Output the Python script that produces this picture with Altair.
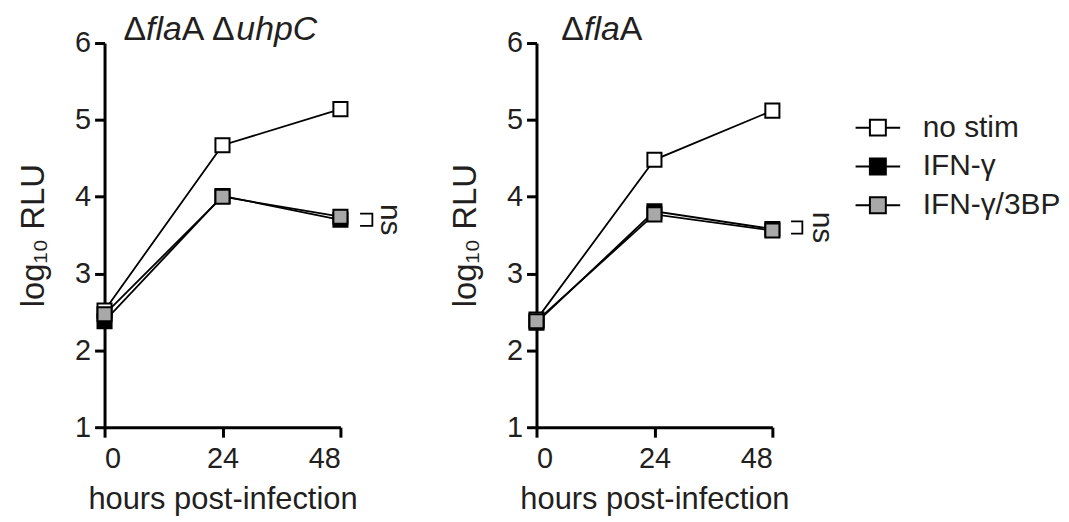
import altair as alt
import pandas as pd

# ---------------- data ----------------
hours = [0, 24, 48]
series_names = ["no stim", "IFN-γ", "IFN-γ/3BP"]

# panel 1: ΔflaA ΔuhpC
left_no_stim = [2.52, 4.67, 5.14]
left_ifng = [2.38, 4.01, 3.70]
left_ifng_3bp = [2.47, 4.00, 3.74]

# panel 2: ΔflaA
right_no_stim = [2.40, 4.48, 5.12]
right_ifng = [2.36, 3.81, 3.58]
right_ifng_3bp = [2.38, 3.77, 3.56]

# "ns" annotation (bracket ends and label position, data units)
left_bracket_x = [52.0, 54.5]
left_bracket_y = [3.78, 3.62]
left_ns = (58.0, 3.70)
right_bracket_x = [51.8, 54.1]
right_bracket_y = [3.68, 3.52]
right_ns = (58.0, 3.60)

y_ticks = [1, 2, 3, 4, 5, 6]
x_ticks = [0, 24, 48]

FONT = "Liberation Sans"
TXT = "#231f20"
fills = ["#ffffff", "#000000", "#a8a8a8"]

legend_path = "M-1.4,0H-0.5M0.5,0H1.4M-0.5,-0.5H0.5V0.5H-0.5Z"


def series_df(a, b, c):
    rows = []
    for name, vals in zip(series_names, [a, b, c]):
        for h, v in zip(hours, vals):
            rows.append({"hour": h, "val": v, "series": name})
    return pd.DataFrame(rows)


X = alt.X("hour:Q", scale=alt.Scale(domain=[0, 48], nice=False, zero=False),
          axis=alt.Axis(values=x_ticks, title="hours post-infection", format="d"))
Y = alt.Y("val:Q", scale=alt.Scale(domain=[1, 6], nice=False, zero=False),
          axis=alt.Axis(values=y_ticks, title="log₁₀ RLU", format="d"))

LEGEND = alt.Legend(title=None, orient="none", legendX=760, legendY=68,
                    symbolType=legend_path, symbolSize=1024,
                    symbolStrokeColor="black", symbolStrokeWidth=2,
                    symbolOpacity=1, labelFont=FONT, labelFontSize=30,
                    labelColor=TXT, labelOffset=28, rowPadding=7)

# widths (em) for Liberation Sans, used to abut the mixed-style title pieces
EM = {"Δ": 0.668, "f": 0.278, "l": 0.222, "a": 0.556, "A": 0.667, " ": 0.278,
      "u": 0.556, "h": 0.556, "p": 0.556, "C": 0.722}
TITLE_SIZE = 34


def title_layers(pieces, x0, y0):
    layers = []
    x = x0
    for text, italic in pieces:
        layers.append(
            alt.Chart(pd.DataFrame({"t": [text]})).mark_text(
                font=FONT, fontSize=TITLE_SIZE, fontStyle="italic" if italic else "normal",
                align="left", baseline="alphabetic", color=TXT
            ).encode(x=alt.value(x), y=alt.value(y0), text="t:N")
        )
        x += sum(EM[ch] for ch in text) * TITLE_SIZE
    return layers


def panel(a, b, c, bx, by, ns, pieces, tx):
    df = series_df(a, b, c)
    base = alt.Chart(df)
    lines = base.mark_line(color="black", strokeWidth=1.8).encode(x=X, y=Y, detail="series:N")
    points = base.mark_point(shape="square", filled=True, size=200, stroke="black",
                             strokeWidth=2, opacity=1).encode(
        x=X, y=Y,
        fill=alt.Fill("series:N", scale=alt.Scale(domain=series_names, range=fills),
                      sort=series_names, legend=LEGEND),
    )
    bdf = pd.DataFrame({"hour": [bx[0], bx[1], bx[1], bx[0]],
                        "val": [by[0], by[0], by[1], by[1]],
                        "o": [0, 1, 2, 3]})
    bracket = alt.Chart(bdf).mark_line(color="black", strokeWidth=1.8).encode(
        x=X, y=Y, order="o:Q")
    ndf = pd.DataFrame({"hour": [ns[0]], "val": [ns[1]], "t": ["ns"]})
    ns_text = alt.Chart(ndf).mark_text(angle=90, font=FONT, fontSize=30, color=TXT,
                                       align="center", baseline="middle").encode(
        x=X, y=Y, text="t:N")
    return alt.layer(lines, bracket, points, ns_text, *title_layers(pieces, tx, -3)).properties(
        width=237, height=386)


left = panel(left_no_stim, left_ifng, left_ifng_3bp, left_bracket_x, left_bracket_y, left_ns,
             [("Δ", False), ("fla", True), ("A Δ", False), ("uhpC", True)], 19)
right = panel(right_no_stim, right_ifng, right_ifng_3bp, right_bracket_x, right_bracket_y, right_ns,
              [("Δ", False), ("fla", True), ("A", False)], 25)

chart = alt.hconcat(left, right, spacing=44).properties(
    padding={"left": 9, "top": 4, "right": 0, "bottom": 0}
).configure_view(stroke=None).configure_axis(
    grid=False, domainColor="black", domainWidth=3, tickColor="black", tickWidth=3,
    tickSize=10, labelFont=FONT, labelFontSize=29, labelColor=TXT,
    titleFont=FONT, titleFontWeight="normal", titleColor=TXT,
).configure_axisY(titlePadding=24, titleFontSize=33, labelPadding=4
).configure_axisX(titlePadding=12, titleFontSize=31, labelPadding=7)

chart.save("out.html", embed_options={"renderer": "svg", "actions": False})
